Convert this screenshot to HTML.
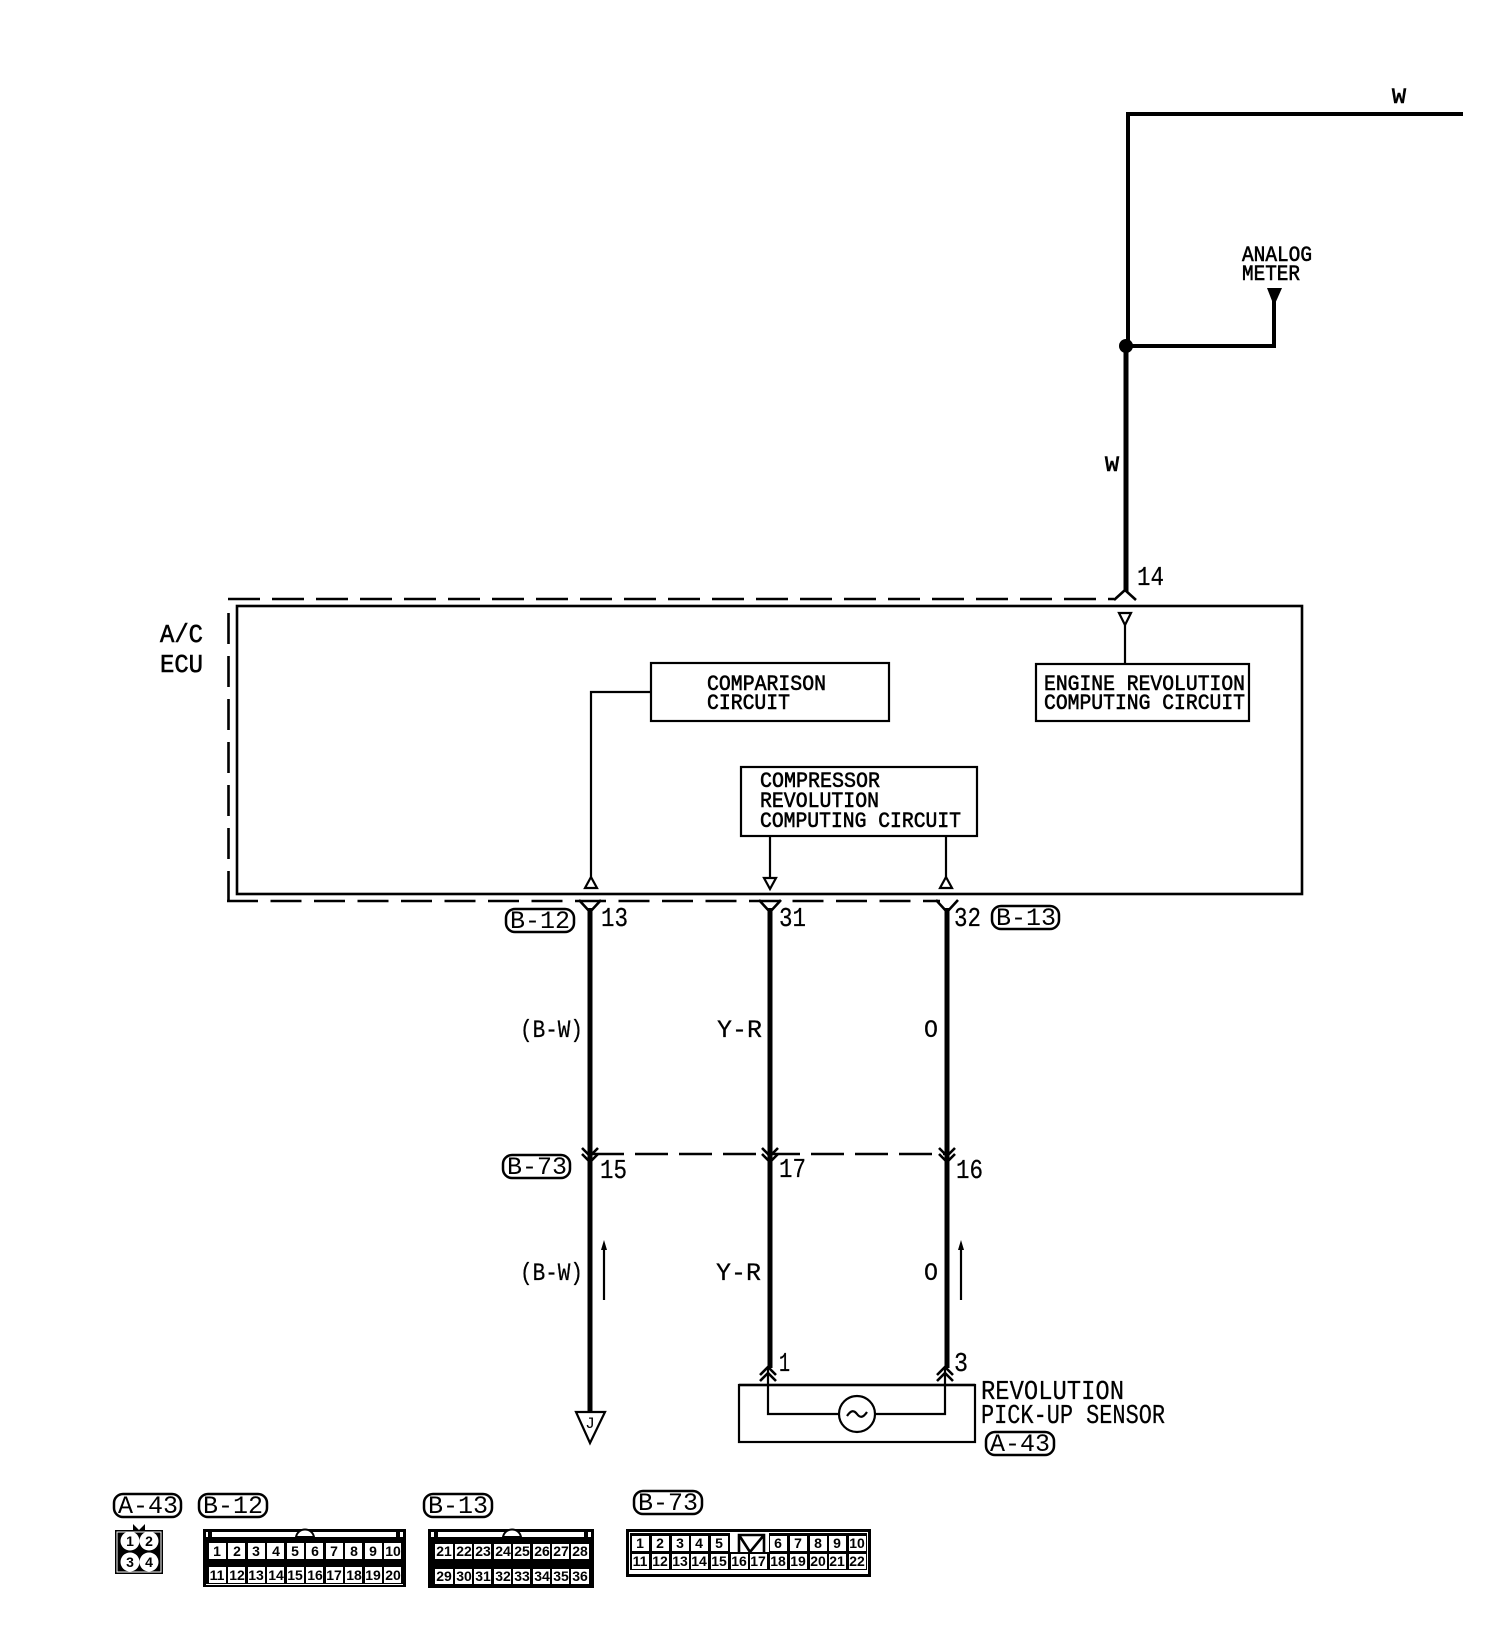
<!DOCTYPE html>
<html>
<head>
<meta charset="utf-8">
<style>
html,body{margin:0;padding:0;background:#fff}
svg{display:block}
text{font-family:"Liberation Mono",monospace;fill:#000}
.l{font-size:22px;stroke:#000;stroke-width:.6}
.n{font-size:27px;stroke:#000;stroke-width:.25}
.p{font-size:25px}
.c{font-family:"Liberation Sans",sans-serif;font-size:14px;font-weight:bold;text-anchor:middle}
.w{fill:none;stroke:#000;stroke-width:5}
.t{fill:none;stroke:#000;stroke-width:2.2}
.h{fill:none;stroke:#000;stroke-width:2.6}
.d{fill:none;stroke:#000;stroke-width:2.6}
.pill{fill:#fff;stroke:#000;stroke-width:2.5}
.k{fill:#fff}
</style>
</head>
<body>
<svg width="1504" height="1630" viewBox="0 0 1504 1630" xmlns="http://www.w3.org/2000/svg">
<rect width="1504" height="1630" fill="#fff"/>

<!-- top wiring -->
<path fill="none" stroke="#000" stroke-width="4" d="M1463 114H1128V346"/>
<path class="w" d="M1126 346V592"/>
<path fill="none" stroke="#000" stroke-width="4" d="M1126 346H1274V300"/>
<circle cx="1126" cy="346" r="7"/>
<polygon points="1267,288 1282,288 1274,306"/>
<text class="l" x="1392" y="103" textLength="14" lengthAdjust="spacingAndGlyphs">W</text>
<text class="l" x="1242" y="261" textLength="70" lengthAdjust="spacingAndGlyphs">ANALOG</text>
<text class="l" x="1242" y="280" textLength="58" lengthAdjust="spacingAndGlyphs">METER</text>
<text class="l" x="1105" y="471" textLength="14" lengthAdjust="spacingAndGlyphs">W</text>
<text class="n" x="1137" y="585" textLength="27" lengthAdjust="spacingAndGlyphs">14</text>

<!-- ECU frame -->
<rect x="237" y="606" width="1065" height="288" class="h"/>
<path class="d" stroke-dasharray="32 12" d="M228 599H1114"/>
<path class="d" stroke-dasharray="31 12" d="M228.500 613V901"/>
<path class="d" stroke-dasharray="31 12.500" d="M227 901H940"/>
<path class="h" d="M1114 600L1125 590L1136 600"/>
<text class="l" x="160" y="642" style="font-size:26px" textLength="43" lengthAdjust="spacingAndGlyphs">A/C</text>
<text class="l" x="160" y="672" style="font-size:26px" textLength="43" lengthAdjust="spacingAndGlyphs">ECU</text>

<!-- inner boxes -->
<rect x="651" y="663" width="238" height="58" class="t"/>
<text class="l" x="707" y="690" textLength="119" lengthAdjust="spacingAndGlyphs">COMPARISON</text>
<text class="l" x="707" y="709" textLength="83" lengthAdjust="spacingAndGlyphs">CIRCUIT</text>
<rect x="1036" y="664" width="213" height="57" class="t"/>
<text class="l" x="1044" y="690" textLength="201" lengthAdjust="spacingAndGlyphs">ENGINE REVOLUTION</text>
<text class="l" x="1044" y="709" textLength="201" lengthAdjust="spacingAndGlyphs">COMPUTING CIRCUIT</text>
<rect x="741" y="767" width="236" height="69" class="t"/>
<text class="l" x="760" y="787" textLength="120" lengthAdjust="spacingAndGlyphs">COMPRESSOR</text>
<text class="l" x="760" y="807" textLength="119" lengthAdjust="spacingAndGlyphs">REVOLUTION</text>
<text class="l" x="760" y="827" textLength="201" lengthAdjust="spacingAndGlyphs">COMPUTING CIRCUIT</text>

<!-- inner connectors -->
<path class="t" d="M651 692H591V877"/>
<path class="t" d="M770 836V878"/>
<path class="t" d="M946 836V877"/>
<path class="t" d="M1125 625V664"/>
<polygon class="t" points="591,877 585,888 597,888"/>
<polygon class="t" points="770,889 764,878 776,878"/>
<polygon class="t" points="946,877 940,888 952,888"/>
<polygon class="t" points="1125,625 1119,613 1131,613"/>

<!-- lower wires -->
<path class="w" d="M590 908V1412"/>
<path class="w" d="M770 908V1368"/>
<path class="w" d="M947 908V1368"/>
<path class="h" d="M579 900L590 912L601 900"/>
<path class="h" d="M759 900L770 912L781 900"/>
<path class="h" d="M936 900L947 912L958 900"/>
<path class="d" stroke-dasharray="33 11" d="M591 1154H947"/>
<path class="h" d="M582 1148L590 1156L598 1148M582 1154L590 1162L598 1154"/>
<path class="h" d="M762 1148L770 1156L778 1148M762 1154L770 1162L778 1154"/>
<path class="h" d="M939 1148L947 1156L955 1148M939 1154L947 1162L955 1154"/>
<polygon points="576,1412 605,1412 590,1443" fill="#fff" stroke="#000" stroke-width="2.200"/>
<text x="590" y="1428" text-anchor="middle" style="font-size:16px">J</text>

<!-- wire labels -->
<text class="n" x="601" y="926" textLength="27" lengthAdjust="spacingAndGlyphs">13</text>
<text class="n" x="779" y="926" textLength="27" lengthAdjust="spacingAndGlyphs">31</text>
<text class="n" x="954" y="926" textLength="27" lengthAdjust="spacingAndGlyphs">32</text>
<text class="n" x="520" y="1037" style="font-size:25px" textLength="63" lengthAdjust="spacingAndGlyphs">(B-W)</text>
<text class="n" x="717" y="1037" style="font-size:25px" textLength="45" lengthAdjust="spacingAndGlyphs">Y-R</text>
<text class="n" x="924" y="1037" style="font-size:25px" textLength="14" lengthAdjust="spacingAndGlyphs">O</text>
<text class="n" x="600" y="1178" textLength="27" lengthAdjust="spacingAndGlyphs">15</text>
<text class="n" x="779" y="1177" textLength="27" lengthAdjust="spacingAndGlyphs">17</text>
<text class="n" x="956" y="1178" textLength="27" lengthAdjust="spacingAndGlyphs">16</text>
<text class="n" x="520" y="1280" style="font-size:25px" textLength="63" lengthAdjust="spacingAndGlyphs">(B-W)</text>
<text class="n" x="716" y="1280" style="font-size:25px" textLength="45" lengthAdjust="spacingAndGlyphs">Y-R</text>
<text class="n" x="924" y="1280" style="font-size:25px" textLength="14" lengthAdjust="spacingAndGlyphs">O</text>
<text class="n" x="779" y="1371" textLength="11" lengthAdjust="spacingAndGlyphs">1</text>
<text class="n" x="954" y="1371" textLength="14" lengthAdjust="spacingAndGlyphs">3</text>

<!-- flow arrows -->
<path class="t" d="M604 1300V1245"/><polygon points="604,1240 601,1250 607,1250"/>
<path class="t" d="M961 1300V1245"/><polygon points="961,1240 958,1250 964,1250"/>

<!-- sensor -->
<rect x="739" y="1385" width="236" height="57" class="t"/>
<path class="h" d="M739 1385H975"/>
<path class="t" d="M768 1368V1414H838M876 1414H945V1368"/>
<circle cx="857" cy="1414" r="18" fill="#fff" stroke="#000" stroke-width="2.200"/>
<path class="t" d="M847 1416C851 1410 854 1410 857 1414C860 1418 863 1418 867 1412"/>
<path class="h" d="M760 1375L768 1367L776 1375M760 1381L768 1373L776 1381"/>
<path class="h" d="M937 1375L945 1367L953 1375M937 1381L945 1373L953 1381"/>
<text class="n" x="981" y="1399" textLength="143" lengthAdjust="spacingAndGlyphs">REVOLUTION</text>
<text class="n" x="981" y="1423" textLength="184" lengthAdjust="spacingAndGlyphs">PICK-UP SENSOR</text>

<!-- connector pills -->
<rect class="pill" x="506" y="909" width="68" height="23" rx="9"/><text class="p" x="510" y="928" textLength="60" lengthAdjust="spacingAndGlyphs">B-12</text>
<rect class="pill" x="992" y="906" width="67" height="23" rx="9"/><text class="p" x="996" y="925" textLength="60" lengthAdjust="spacingAndGlyphs">B-13</text>
<rect class="pill" x="503" y="1155" width="67" height="23" rx="9"/><text class="p" x="507" y="1174" textLength="60" lengthAdjust="spacingAndGlyphs">B-73</text>
<rect class="pill" x="986" y="1432" width="68" height="23" rx="9"/><text class="p" x="990" y="1451" textLength="60" lengthAdjust="spacingAndGlyphs">A-43</text>
<rect class="pill" x="114" y="1494" width="67" height="23" rx="9"/><text class="p" x="118" y="1513" textLength="60" lengthAdjust="spacingAndGlyphs">A-43</text>
<rect class="pill" x="199" y="1494" width="68" height="23" rx="9"/><text class="p" x="203" y="1513" textLength="60" lengthAdjust="spacingAndGlyphs">B-12</text>
<rect class="pill" x="424" y="1494" width="68" height="23" rx="9"/><text class="p" x="428" y="1513" textLength="60" lengthAdjust="spacingAndGlyphs">B-13</text>
<rect class="pill" x="634" y="1491" width="68" height="23" rx="9"/><text class="p" x="638" y="1510" textLength="60" lengthAdjust="spacingAndGlyphs">B-73</text>

<!-- A-43 connector -->
<path d="M133 1524L139 1530L145 1524V1532H133Z"/>
<rect x="115" y="1530" width="48" height="44"/>
<rect x="117" y="1532" width="44" height="40" fill="none" stroke="#fff" stroke-width="1"/>
<circle class="k" cx="130" cy="1541" r="9.500"/><circle class="k" cx="149" cy="1541" r="9.500"/>
<circle class="k" cx="130" cy="1562" r="9.500"/><circle class="k" cx="149" cy="1562" r="9.500"/>
<text class="c" x="130" y="1546">1</text><text class="c" x="149" y="1546">2</text>
<text class="c" x="130" y="1567">3</text><text class="c" x="149" y="1567">4</text>

<!-- B-12 connector -->
<rect x="203" y="1529" width="203" height="58"/>
<rect class="k" x="206" y="1532" width="197" height="5"/>
<rect x="208" y="1532" width="4" height="5"/><rect x="396" y="1532" width="4" height="5"/>
<path d="M296 1537C298 1527 312 1527 314 1537Z" fill="#fff" stroke="#000" stroke-width="2"/>
<rect class="k" x="206" y="1584" width="197" height="1"/>
<g class="k">
<rect x="209" y="1543" width="17" height="16"/><rect x="228" y="1543" width="17" height="16"/><rect x="248" y="1543" width="17" height="16"/><rect x="267" y="1543" width="17" height="16"/><rect x="287" y="1543" width="17" height="16"/><rect x="306" y="1543" width="17" height="16"/><rect x="326" y="1543" width="17" height="16"/><rect x="345" y="1543" width="17" height="16"/><rect x="365" y="1543" width="17" height="16"/><rect x="384" y="1543" width="17" height="16"/>
<rect x="209" y="1567" width="17" height="16"/><rect x="228" y="1567" width="17" height="16"/><rect x="248" y="1567" width="17" height="16"/><rect x="267" y="1567" width="17" height="16"/><rect x="287" y="1567" width="17" height="16"/><rect x="306" y="1567" width="17" height="16"/><rect x="326" y="1567" width="17" height="16"/><rect x="345" y="1567" width="17" height="16"/><rect x="365" y="1567" width="17" height="16"/><rect x="384" y="1567" width="17" height="16"/>
</g>
<text class="c" x="217" y="1556">1</text><text class="c" x="237" y="1556">2</text><text class="c" x="256" y="1556">3</text><text class="c" x="276" y="1556">4</text><text class="c" x="295" y="1556">5</text><text class="c" x="315" y="1556">6</text><text class="c" x="334" y="1556">7</text><text class="c" x="354" y="1556">8</text><text class="c" x="373" y="1556">9</text><text class="c" x="393" y="1556">10</text>
<text class="c" x="217" y="1580">11</text><text class="c" x="237" y="1580">12</text><text class="c" x="256" y="1580">13</text><text class="c" x="276" y="1580">14</text><text class="c" x="295" y="1580">15</text><text class="c" x="315" y="1580">16</text><text class="c" x="334" y="1580">17</text><text class="c" x="354" y="1580">18</text><text class="c" x="373" y="1580">19</text><text class="c" x="393" y="1580">20</text>

<!-- B-13 connector -->
<rect x="428" y="1529" width="166" height="59"/>
<rect class="k" x="431" y="1532" width="160" height="5"/>
<rect x="434" y="1532" width="4" height="5"/><rect x="584" y="1532" width="4" height="5"/>
<path d="M503 1537C505 1527 519 1527 521 1537Z" fill="#fff" stroke="#000" stroke-width="2"/>
<g class="k">
<rect x="435" y="1544" width="18" height="15"/><rect x="455" y="1544" width="17" height="15"/><rect x="474" y="1544" width="17" height="15"/><rect x="494" y="1544" width="17" height="15"/><rect x="513" y="1544" width="17" height="15"/><rect x="533" y="1544" width="17" height="15"/><rect x="552" y="1544" width="17" height="15"/><rect x="571" y="1544" width="18" height="15"/>
<rect x="435" y="1569" width="18" height="15"/><rect x="455" y="1569" width="17" height="15"/><rect x="474" y="1569" width="17" height="15"/><rect x="494" y="1569" width="17" height="15"/><rect x="513" y="1569" width="17" height="15"/><rect x="533" y="1569" width="17" height="15"/><rect x="552" y="1569" width="17" height="15"/><rect x="571" y="1569" width="18" height="15"/>
</g>
<text class="c" x="444" y="1556">21</text><text class="c" x="464" y="1556">22</text><text class="c" x="483" y="1556">23</text><text class="c" x="503" y="1556">24</text><text class="c" x="522" y="1556">25</text><text class="c" x="542" y="1556">26</text><text class="c" x="561" y="1556">27</text><text class="c" x="580" y="1556">28</text>
<text class="c" x="444" y="1581">29</text><text class="c" x="464" y="1581">30</text><text class="c" x="483" y="1581">31</text><text class="c" x="503" y="1581">32</text><text class="c" x="522" y="1581">33</text><text class="c" x="542" y="1581">34</text><text class="c" x="561" y="1581">35</text><text class="c" x="580" y="1581">36</text>

<!-- B-73 connector -->
<rect x="626" y="1529" width="245" height="48"/>
<rect class="k" x="629" y="1532" width="239" height="42"/>
<rect x="630" y="1533" width="237" height="37"/>
<g class="k">
<rect x="632" y="1536" width="17" height="15"/><rect x="652" y="1536" width="17" height="15"/><rect x="672" y="1536" width="17" height="15"/><rect x="691" y="1536" width="17" height="15"/><rect x="711" y="1536" width="17" height="15"/>
<rect x="730" y="1533" width="39" height="19"/>
<rect x="770" y="1536" width="17" height="15"/><rect x="790" y="1536" width="17" height="15"/><rect x="810" y="1536" width="17" height="15"/><rect x="829" y="1536" width="17" height="15"/><rect x="849" y="1536" width="17" height="15"/>
<rect x="632" y="1554" width="17" height="15"/><rect x="652" y="1554" width="17" height="15"/><rect x="672" y="1554" width="17" height="15"/><rect x="691" y="1554" width="17" height="15"/><rect x="711" y="1554" width="17" height="15"/><rect x="731" y="1554" width="17" height="15"/><rect x="750" y="1554" width="17" height="15"/><rect x="770" y="1554" width="17" height="15"/><rect x="790" y="1554" width="17" height="15"/><rect x="810" y="1554" width="17" height="15"/><rect x="829" y="1554" width="17" height="15"/><rect x="849" y="1554" width="17" height="15"/>
</g>
<path class="h" d="M739 1552V1535H764V1552M739 1535L750 1552L764 1535"/>
<text class="c" x="640" y="1548">1</text><text class="c" x="660" y="1548">2</text><text class="c" x="680" y="1548">3</text><text class="c" x="699" y="1548">4</text><text class="c" x="719" y="1548">5</text><text class="c" x="778" y="1548">6</text><text class="c" x="798" y="1548">7</text><text class="c" x="818" y="1548">8</text><text class="c" x="837" y="1548">9</text><text class="c" x="857" y="1548">10</text>
<text class="c" x="640" y="1566">11</text><text class="c" x="660" y="1566">12</text><text class="c" x="680" y="1566">13</text><text class="c" x="699" y="1566">14</text><text class="c" x="719" y="1566">15</text><text class="c" x="739" y="1566">16</text><text class="c" x="758" y="1566">17</text><text class="c" x="778" y="1566">18</text><text class="c" x="798" y="1566">19</text><text class="c" x="818" y="1566">20</text><text class="c" x="837" y="1566">21</text><text class="c" x="857" y="1566">22</text>
</svg>
</body>
</html>
